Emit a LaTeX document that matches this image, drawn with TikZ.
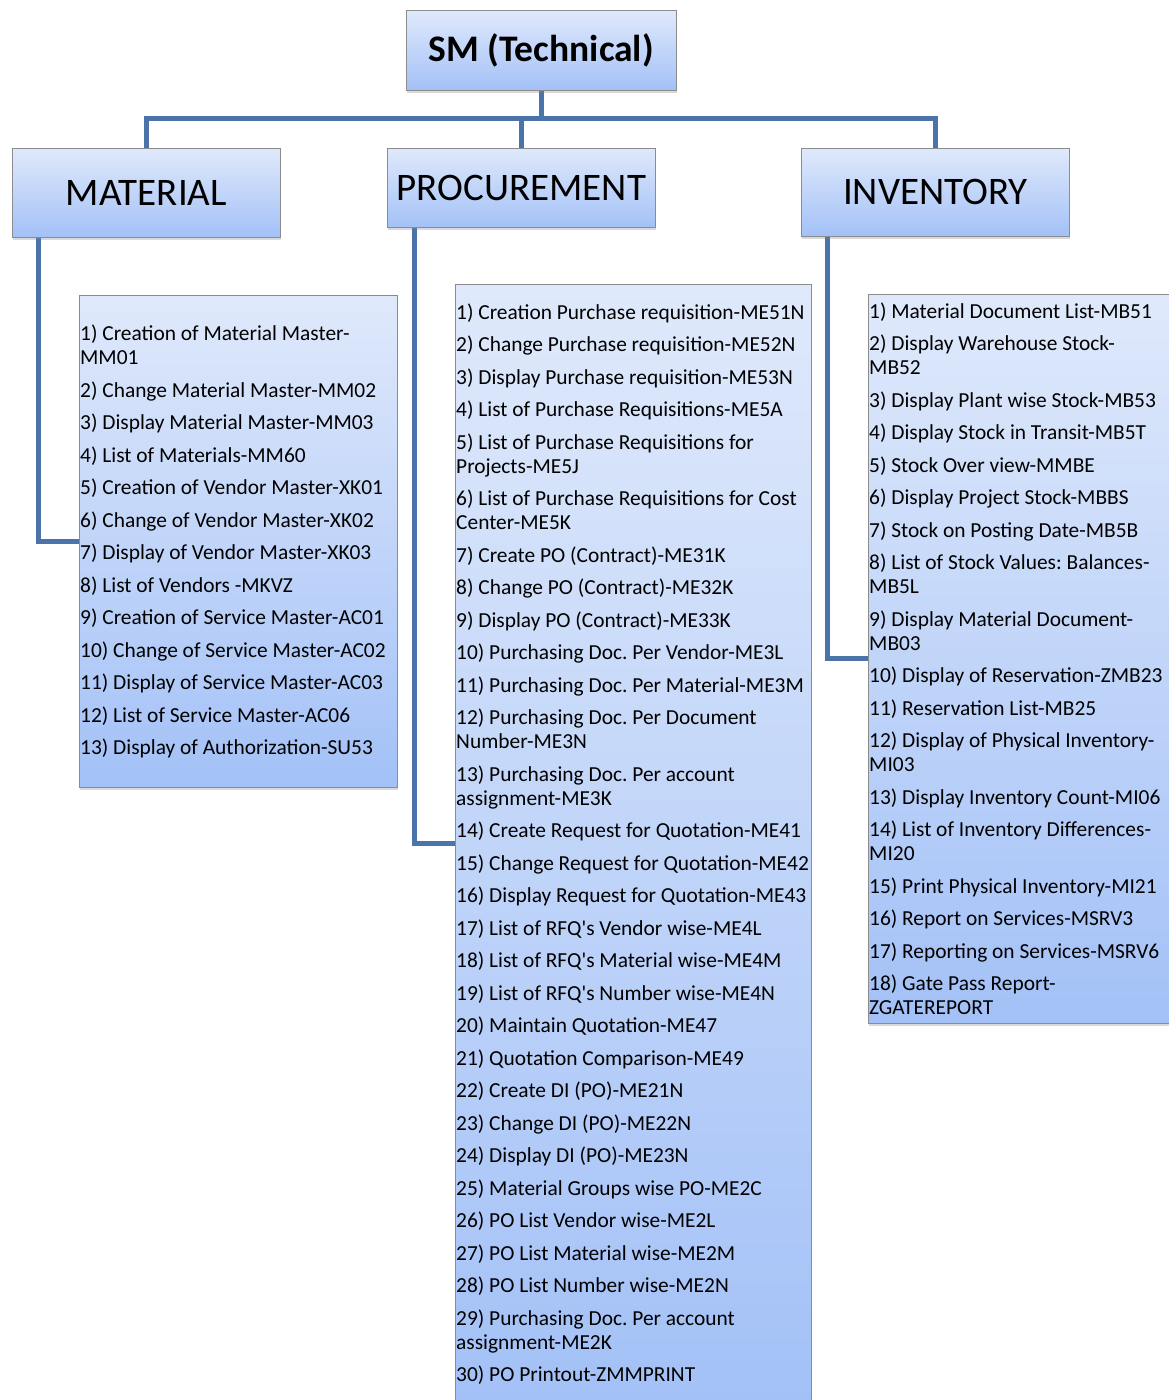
\documentclass[tikz,border=0pt]{standalone}
\usepackage{fontspec}
\setmainfont{Carlito}
\usetikzlibrary{shadows,backgrounds}
\definecolor{conncol}{HTML}{4A74AA}
\definecolor{topfill}{HTML}{DFE9FB}
\definecolor{botfill}{HTML}{A3C1F7}
\definecolor{edgecol}{HTML}{8C8C8C}
\newcommand\igap{\\[8.5pt]}
\newcommand\apos{\textquotesingle}
\frenchspacing
\begin{document}
\begin{tikzpicture}[x=1pt,y=-1pt,
  box/.style={draw=edgecol, line width=0.8pt, top color=topfill, bottom color=botfill,
    drop shadow={opacity=0.3, shadow xshift=1pt, shadow yshift=-3pt},
    inner sep=0pt, anchor=north west},
  head/.style={box, minimum width=268pt, font=\fontsize{39}{44}\selectfont},
  conn/.style={draw=conncol, line width=5pt},
  lst/.style={font=\fontsize{21.4}{24}\selectfont, align=left, inner xsep=1pt, inner ysep=0pt, anchor=west, text=black}]
\useasboundingbox (0,0) rectangle (1168,1400);

\node[box, minimum width=270pt, minimum height=80pt, font=\bfseries\fontsize{37.5}{40}\selectfont] (root) at (406,10) {SM (Technical)};
\node[head, minimum height=89pt] (mat) at (12,148) {MATERIAL};
\node[head, minimum height=79pt] (proc) at (387,148) {PROCUREMENT};
\node[head, minimum height=88pt] (inv) at (801,148) {INVENTORY};

\node[box, minimum width=318pt, minimum height=492pt] (mbox) at (79,295) {};
\node[box, minimum width=356pt, minimum height=1119pt] (pbox) at (455,284) {};
\node[box, minimum width=304pt, minimum height=729pt] (ibox) at (868,294) {};

\node[lst] (mtext) at (mbox.west) {1) Creation of Material Master-\\MM01\igap
2) Change Material Master-MM02\igap
3) Display Material Master-MM03\igap
4) List of Materials-MM60\igap
5) Creation of Vendor Master-XK01\igap
6) Change of Vendor Master-XK02\igap
7) Display of Vendor Master-XK03\igap
8) List of Vendors -MKVZ\igap
9) Creation of Service Master-AC01\igap
10) Change of Service Master-AC02\igap
11) Display of Service Master-AC03\igap
12) List of Service Master-AC06\igap
13) Display of Authorization-SU53};

\node[lst] (ptext) at (pbox.west) {1) Creation Purchase requisition-ME51N\igap
2) Change Purchase requisition-ME52N\igap
3) Display Purchase requisition-ME53N\igap
4) List of Purchase Requisitions-ME5A\igap
5) List of Purchase Requisitions for\\Projects-ME5J\igap
6) List of Purchase Requisitions for Cost\\Center-ME5K\igap
7) Create PO (Contract)-ME31K\igap
8) Change PO (Contract)-ME32K\igap
9) Display PO (Contract)-ME33K\igap
10) Purchasing Doc. Per Vendor-ME3L\igap
11) Purchasing Doc. Per Material-ME3M\igap
12) Purchasing Doc. Per Document\\Number-ME3N\igap
13) Purchasing Doc. Per account\\assignment-ME3K\igap
14) Create Request for Quotation-ME41\igap
15) Change Request for Quotation-ME42\igap
16) Display Request for Quotation-ME43\igap
17) List of RFQ\apos s Vendor wise-ME4L\igap
18) List of RFQ\apos s Material wise-ME4M\igap
19) List of RFQ\apos s Number wise-ME4N\igap
20) Maintain Quotation-ME47\igap
21) Quotation Comparison-ME49\igap
22) Create DI (PO)-ME21N\igap
23) Change DI (PO)-ME22N\igap
24) Display DI (PO)-ME23N\igap
25) Material Groups wise PO-ME2C\igap
26) PO List Vendor wise-ME2L\igap
27) PO List Material wise-ME2M\igap
28) PO List Number wise-ME2N\igap
29) Purchasing Doc. Per account\\assignment-ME2K\igap
30) PO Printout-ZMMPRINT};

\node[lst] (itext) at (ibox.west) {1) Material Document List-MB51\igap
2) Display Warehouse Stock-\\MB52\igap
3) Display Plant wise Stock-MB53\igap
4) Display Stock in Transit-MB5T\igap
5) Stock Over view-MMBE\igap
6) Display Project Stock-MBBS\igap
7) Stock on Posting Date-MB5B\igap
8) List of Stock Values: Balances-\\MB5L\igap
9) Display Material Document-\\MB03\igap
10) Display of Reservation-ZMB23\igap
11) Reservation List-MB25\igap
12) Display of Physical Inventory-\\MI03\igap
13) Display Inventory Count-MI06\igap
14) List of Inventory Differences-\\MI20\igap
15) Print Physical Inventory-MI21\igap
16) Report on Services-MSRV3\igap
17) Reporting on Services-MSRV6\igap
18) Gate Pass Report-\\ZGATEREPORT};

\begin{scope}[on background layer]
\coordinate (bus) at (root.south |- 0,118);
\draw[conn] (root.south) -- (bus);
\draw[conn] (mat.north) |- (bus) -| (inv.north);
\draw[conn] (proc.north) -- (proc.north |- bus);
\draw[conn] ([xshift=26pt]mat.south west) |- (mbox.west);
\draw[conn] ([xshift=27pt]proc.south west) |- (pbox.west);
\draw[conn] ([xshift=26pt]inv.south west) |- (ibox.west);
\end{scope}
\end{tikzpicture}
\end{document}
